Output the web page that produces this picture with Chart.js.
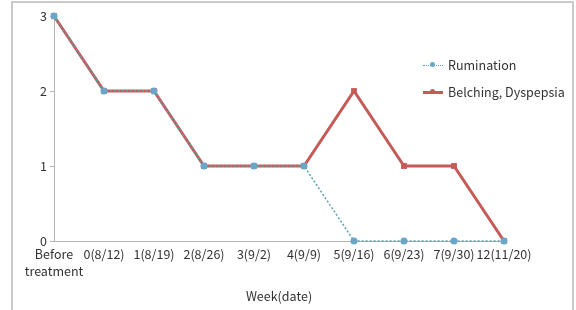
<!DOCTYPE html>
<html>
<head>
<meta charset="utf-8">
<script src="https://cdn.jsdelivr.net/npm/chart.js@4"></script>
<style>
  body { margin: 0; background: #fff; }
  #wrap { position: relative; width: 576px; height: 310px; }
  #frame { position: absolute; left: 11px; top: 1px; width: 563px; height: 320px;
           border: 2px solid #cacaca; box-sizing: border-box; }
  #legend { position: absolute; left: 423px; top: 51px; font: 12.5px "Noto Sans CJK KR", sans-serif; color: #333; }
  .item { display: flex; align-items: center; height: 27px; }
  .mark { position: relative; width: 20px; height: 10px; margin-right: 5px; }
  .mark .ln { position: absolute; left: 0; right: 0; top: 50%; }
  .mark .dot { position: absolute; left: 7px; top: 2.5px; width: 5px; height: 5px; border-radius: 50%; }
</style>
</head>
<body>
<div id="wrap">
  <div id="frame"></div>
  <canvas id="chart" width="576" height="310"></canvas>
  <div id="legend"></div>
</div>
<script>
const weeks = [["Before", "treatment"], "0(8/12)", "1(8/19)", "2(8/26)", "3(9/2)", "4(9/9)", "5(9/16)", "6(9/23)", "7(9/30)", "12(11/20)"];
const rumination = [3, 2, 2, 1, 1, 1, 0, 0, 0, 0];
const belching = [3, 2, 2, 1, 1, 1, 2, 1, 1, 0];
const yTicks = [0, 1, 2, 3];

const blue = "#6aa6c8";
const teal = "#5a9fae";
const red = "#c55a57";
const font = { family: "'Noto Sans CJK KR', sans-serif", size: 12.5, lineHeight: 1.35 };

const ctx = document.getElementById("chart").getContext("2d");

const chart = new Chart(ctx, {
  type: "line",
  data: {
    labels: weeks,
    datasets: [{
      label: "Rumination",
      data: rumination,
      borderColor: teal,
      borderWidth: 1.5,
      borderDash: [2, 2],
      pointBackgroundColor: blue,
      pointBorderColor: blue,
      pointRadius: 2.8,
      clip: false
    }, {
      label: "Belching, Dyspepsia",
      data: belching,
      borderColor: red,
      borderWidth: 3,
      pointBackgroundColor: red,
      pointBorderColor: red,
      pointStyle: "rect",
      pointRadius: 2,
      clip: false
    }]
  },
  options: {
    responsive: false,
    animation: false,
    layout: { padding: { left: 0, right: 72, top: 16, bottom: 0 } },
    plugins: { legend: { display: false }, tooltip: { enabled: false } },
    scales: {
      x: {
        offset: false,
        grid: { display: false, drawTicks: false },
        border: { color: "#b4b4b4", width: 1 },
        ticks: { color: "#333", font: font, padding: 5, maxRotation: 0, autoSkip: false },
        title: { display: true, text: "Week(date)", color: "#333", font: font, padding: { top: 0, bottom: 5 } },
        afterFit: s => { s.height = 69; }
      },
      y: {
        min: 0,
        max: 3,
        afterBuildTicks: s => { s.ticks = yTicks.map(v => ({ value: v })); },
        grid: { drawOnChartArea: false, drawTicks: true, tickLength: 4, color: "#b4b4b4" },
        border: { color: "#b4b4b4", width: 1 },
        ticks: { color: "#333", font: font, padding: 3 },
        afterFit: s => { s.width = 54; }
      }
    }
  }
});

// legend built from the datasets
const legend = document.getElementById("legend");
chart.data.datasets.forEach(ds => {
  const item = document.createElement("div");
  item.className = "item";
  const mark = document.createElement("span");
  mark.className = "mark";
  const ln = document.createElement("span");
  ln.className = "ln";
  if (ds.borderDash) {
    ln.style.borderTop = "1.5px dotted " + ds.borderColor;
  } else {
    ln.style.borderTop = ds.borderWidth + "px solid " + ds.borderColor;
    ln.style.marginTop = "-1px";
  }
  const dot = document.createElement("span");
  dot.className = "dot";
  dot.style.background = ds.pointBackgroundColor;
  mark.appendChild(ln);
  mark.appendChild(dot);
  item.appendChild(mark);
  item.appendChild(document.createTextNode(ds.label));
  legend.appendChild(item);
});
</script>
</body>
</html>
